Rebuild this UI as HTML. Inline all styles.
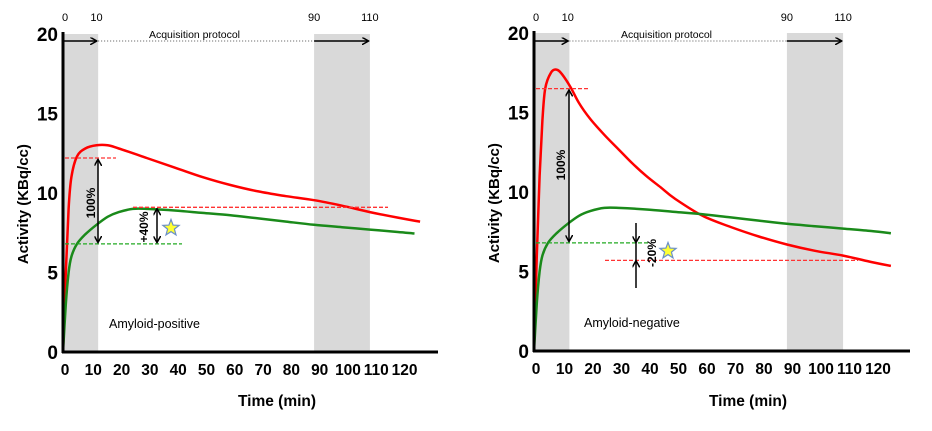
<!DOCTYPE html>
<html><head><meta charset="utf-8"><style>
body{margin:0;background:#fff;width:932px;height:431px;overflow:hidden}
svg{display:block;font-family:"Liberation Sans",sans-serif}
</style></head><body>
<svg id="c" width="932" height="431" viewBox="0 0 932 431"></svg>
<script>
const xTickLabels=[0,10,20,30,40,50,60,70,80,90,100,110,120];
const yTickLabels=[0,5,10,15,20];
const posRedT=[0,1,2,3,5,8,12,16,20,30,40,50,60,70,80,90,100,110,120,128];
const posRedV=[0,5,9,11,12.3,12.8,13.0,13.0,12.8,12.2,11.6,11.0,10.5,10.1,9.8,9.55,9.2,8.8,8.45,8.2];
const posGreenT=[0,1,2,3,5,8,12,16,20,25,30,40,50,60,70,80,90,100,110,120,126];
const posGreenV=[0,3,5,6,6.8,7.4,8.0,8.5,8.8,9.0,9.0,8.9,8.75,8.6,8.4,8.2,8.0,7.85,7.7,7.55,7.45];
const negRedT=[0,1,2,3,4,6,8,10,13,16,20,25,30,35,40,45,50,60,70,80,90,100,110,120,127];
const negRedV=[0,6,11,14.5,16.5,17.5,17.7,17.4,16.6,15.6,14.6,13.6,12.7,11.8,11.0,10.3,9.6,8.5,7.8,7.2,6.7,6.3,6.0,5.6,5.35];
const negGreenT=[0,1,2,3,5,8,12,16,20,25,30,40,50,60,70,80,90,100,110,120,127];
const negGreenV=[0,3,5,6,6.8,7.4,8.0,8.5,8.8,9.0,9.0,8.9,8.75,8.6,8.4,8.2,8.0,7.85,7.7,7.55,7.4];
const shadeBands=[[0,12.6],[90,110]];
const topMarks=[0,10,90,110];

const svg=document.getElementById('c');
const NS='http://www.w3.org/2000/svg';
function el(tag,attrs,parent,text){const e=document.createElementNS(NS,tag);for(const k in attrs)e.setAttribute(k,attrs[k]);if(text!==undefined)e.textContent=text;(parent||svg).appendChild(e);return e;}
const defs=el('defs',{});
const mk=el('marker',{id:'ah',viewBox:'0 0 10 10',refX:'8',refY:'5',markerWidth:'5',markerHeight:'5',orient:'auto-start-reverse'},defs);
el('path',{d:'M0,0 L9,5 L0,10',fill:'none',stroke:'#000','stroke-width':'2'},mk);

function smooth(pts){
  let d='M'+pts[0][0].toFixed(1)+','+pts[0][1].toFixed(1);
  for(let i=0;i<pts.length-1;i++){
    const p0=pts[Math.max(0,i-1)],p1=pts[i],p2=pts[i+1],p3=pts[Math.min(pts.length-1,i+2)];
    const c1x=p1[0]+(p2[0]-p0[0])/6,c1y=p1[1]+(p2[1]-p0[1])/6;
    const c2x=p2[0]-(p3[0]-p1[0])/6,c2y=p2[1]-(p3[1]-p1[1])/6;
    d+=`C${c1x.toFixed(1)},${c1y.toFixed(1)} ${c2x.toFixed(1)},${c2y.toFixed(1)} ${p2[0].toFixed(1)},${p2[1].toFixed(1)}`;
  }
  return d;
}

function panel(cfg){
  const g=el('g',{});
  
  
  const X=t=>cfg.x0+t*cfg.kx, Y=v=>cfg.y0-v*cfg.ky;
  shadeBands.forEach(b=>{const r=el('rect',{x:X(b[0]),y:Y(20),width:X(b[1])-X(b[0]),height:Y(0)-Y(20),fill:'#d9d9d9'},g);
    });
  topMarks.forEach(m=>{const pos=m==10?12:m;const t=el('text',{x:X(pos)+(m==0?2:0),y:21,'font-size':'11','text-anchor':'middle'},g,m);});
  const at=el('text',{x:X(50)-8,y:38,'font-size':'10.5','text-anchor':'middle'},g,'Acquisition protocol');
  
  el('line',{x1:X(0),y1:41,x2:X(12.6)-2,y2:41,stroke:'#000','stroke-width':'1.5','marker-end':'url(#ah)'},g);
  el('line',{x1:X(12.6),y1:41,x2:X(90),y2:41,stroke:'#555','stroke-width':'1','stroke-dasharray':'1,2'},g);
  el('line',{x1:X(90),y1:41,x2:X(110)-2,y2:41,stroke:'#000','stroke-width':'1.5','marker-end':'url(#ah)'},g);
  [[cfg.rt,cfg.rv,'#f00','red-curve'],[cfg.gt,cfg.gv,'#1a8a1a','green-curve']].forEach(s=>{
    const pts=s[0].map((t,i)=>[X(t),Y(s[1][i])]);
    const p=el('path',{d:smooth(pts),fill:'none',stroke:s[2],'stroke-width':'2.5','stroke-linejoin':'round'},g);
    
  });
  el('line',{x1:X(0),y1:Y(20)-2,x2:X(0),y2:Y(0)+1,stroke:'#000','stroke-width':'3'},g);
  el('line',{x1:X(0)-1,y1:Y(0),x2:cfg.xEnd,y2:Y(0),stroke:'#000','stroke-width':'3'},g);
  yTickLabels.forEach(v=>{const t=el('text',{x:X(0)-5,y:Y(v)+7,'font-size':'19','font-weight':'bold','text-anchor':'end'},g,v);});
  xTickLabels.forEach(v=>{const t=el('text',{x:X(v)+2+v*0.04,y:Y(0)+23,'font-size':'15.5','font-weight':'bold','text-anchor':'middle'},g,v);});
  const yt=el('text',{x:0,y:0,'font-size':'15','font-weight':'bold','text-anchor':'middle',transform:`translate(${X(0)-35},${Y(9.3)}) rotate(-90)`},g,'Activity (KBq/cc)');
  
  const xt=el('text',{x:cfg.x0+214,y:406,'font-size':'15.5','font-weight':'bold','text-anchor':'middle'},g,'Time (min)');
  
  const lb=el('text',{x:cfg.labelX,y:Y(1.5),'font-size':'12.5'},g,cfg.label);
  
  cfg.extra(g,X,Y);
}
function dash(g,x1,x2,y,c){el('line',{x1:x1,y1:y,x2:x2,y2:y,stroke:c,'stroke-width':'1.3','stroke-dasharray':'4,2'},g);}
function darr(g,x,y1,y2){el('line',{x1:x,y1:y1,x2:x,y2:y2,stroke:'#000','stroke-width':'1.5','marker-start':'url(#ah)','marker-end':'url(#ah)'},g);}
function rtext(g,x,y,s,sz){el('text',{x:0,y:0,'font-size':sz,'font-weight':'bold','text-anchor':'middle',transform:`translate(${x},${y}) rotate(-90)`},g,s);}
function star(g,cx,cy){let d='';for(let i=0;i<10;i++){const r=i%2?3.6:8.5,a=-Math.PI/2+i*Math.PI/5;d+=(i?'L':'M')+(cx+r*Math.cos(a)).toFixed(1)+','+(cy+r*Math.sin(a)).toFixed(1);}
  const s=el('path',{d:d+'Z',fill:'#ffff33',stroke:'#6a8fc8','stroke-width':'1.2'},g);}

panel({name:'amyloid-positive-chart',x0:63,kx:2.79,y0:352,ky:15.9,xEnd:438,rt:posRedT,rv:posRedV,gt:posGreenT,gv:posGreenV,label:'Amyloid-positive',labelX:109,
 extra:(g,X,Y)=>{dash(g,65,116,Y(12.2),'#f33');dash(g,65,182,Y(6.8),'#2a2');dash(g,133,388,Y(9.1),'#f33');
  darr(g,98,Y(12.2)+2,Y(6.8)-2);rtext(g,95,203,'100%',12);darr(g,157,Y(9.1)+2,Y(6.8)-2);rtext(g,148,227,'+40%',12);star(g,171,228);}});
panel({name:'amyloid-negative-chart',x0:534,kx:2.81,y0:351,ky:15.9,xEnd:910,rt:negRedT,rv:negRedV,gt:negGreenT,gv:negGreenV,label:'Amyloid-negative',labelX:584,
 extra:(g,X,Y)=>{dash(g,536,588,Y(16.5),'#f33');dash(g,536,650,Y(6.8),'#2a2');dash(g,605,858,Y(5.7),'#f33');
  darr(g,569,Y(16.5)+2,Y(6.8)-2);rtext(g,565,165,'100%',12);
  el('line',{x1:636,y1:223,x2:636,y2:Y(6.8)-1,stroke:'#000','stroke-width':'1.5','marker-end':'url(#ah)'},g);
  el('line',{x1:636,y1:288,x2:636,y2:Y(5.7)+1,stroke:'#000','stroke-width':'1.5','marker-end':'url(#ah)'},g);
  el('line',{x1:636,y1:Y(6.8),x2:636,y2:Y(5.7),stroke:'#000','stroke-width':'1.5'},g);
  rtext(g,656,253,'-20%',12);star(g,668,251);}});
</script>
</body></html>
